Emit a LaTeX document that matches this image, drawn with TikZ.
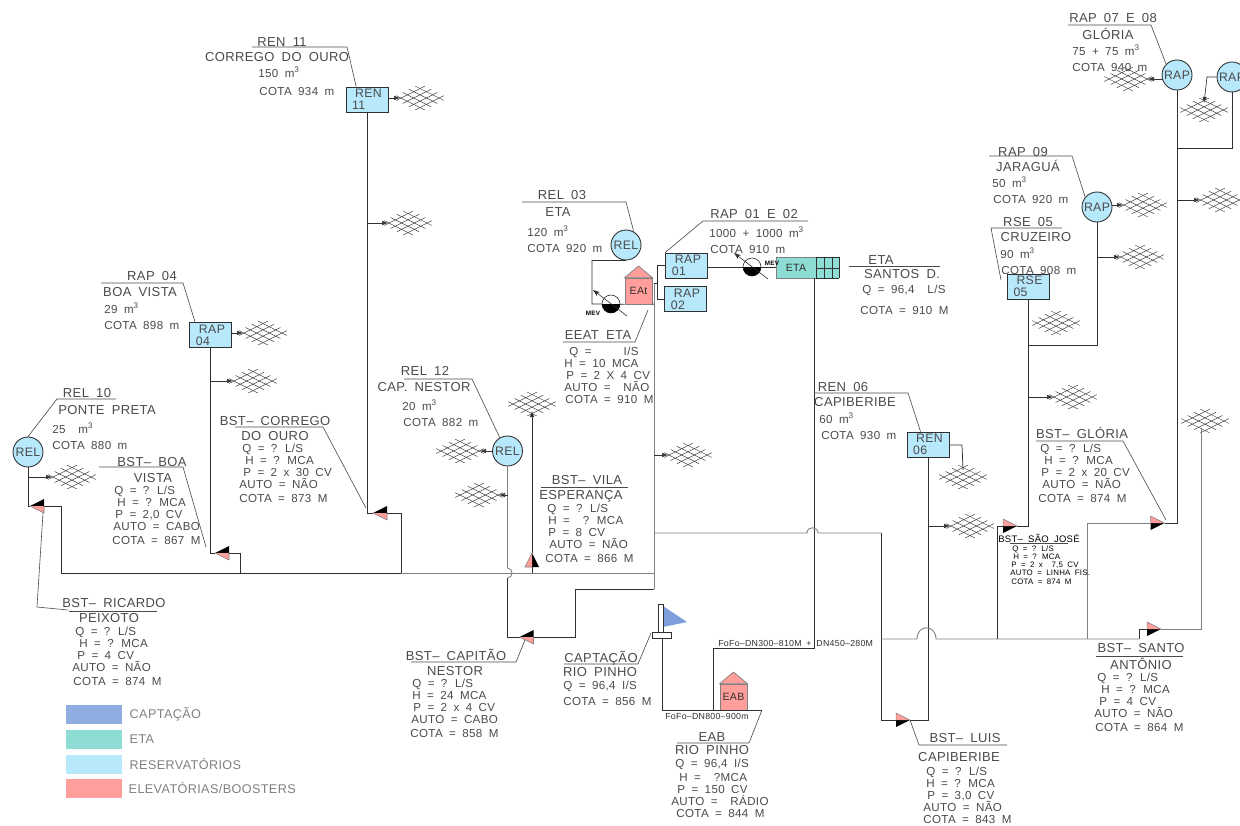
\documentclass[tikz,border=0pt]{standalone}
\usepackage{fontspec}
\usepackage{xcolor}
\usepackage{tikz}
\usetikzlibrary{arrows.meta,positioning}
\setmainfont[LetterSpace=3,WordSpace=1.8]{Liberation Sans}
\definecolor{tankblue}{HTML}{B8E8FC}
\definecolor{pumppink}{HTML}{FF9E9B}
\definecolor{etateal}{HTML}{8DDDD5}
\definecolor{flagblue}{HTML}{7C9EDC}
\definecolor{legblue}{HTML}{8FADE0}
\definecolor{inkgray}{HTML}{4A4A4A}
\definecolor{pipedark}{HTML}{303030}
\definecolor{pipegray}{HTML}{808080}
\newcommand\ind[1]{\hspace*{\dimexpr#1pt*569/1000\relax}}
\newcommand\cub{m\textsuperscript{3}}
\tikzset{
  rede/.pic={
    \foreach \i in {0,...,3} {
      \draw[net] ({-23.75+6.33*\i},{2.375+3.17*\i}) -- ({4.75+6.33*\i},{-11.875+3.17*\i});
      \draw[net] ({23.75-6.33*\i},{2.375+3.17*\i}) -- ({-4.75-6.33*\i},{-11.875+3.17*\i});
    }
    \coordinate (-w) at (-20,0);
    \coordinate (-e) at (20,0);
    \coordinate (-n) at (0,-7);
    \coordinate (-s) at (0,7);
  },
  booster/.pic={
    \fill[black] (-7,0) -- (7,-7) -- (7,0) -- cycle;
    \fill[pumppink] (-7,0) -- (7,0) -- (7,7) -- cycle;
    \draw[pipegray,line width=0.3pt] (-7,0) -- (7,7) -- (7,0);
    \coordinate (-a) at (-7,0);
    \coordinate (-b) at (7,0);
  },
  bomba/.pic={
    \draw[pipedark,fill=white,line width=0.35pt] (0,0) circle[radius=9];
    \begin{scope}
      \clip (-10,0) rectangle (10,10);
      \fill[black] (0,0) circle[radius=9];
    \end{scope}
    \draw[pipedark,line width=0.35pt,-{Stealth[length=1.4mm,width=1mm]}] (16,12) -- (-18,-14);
  }
}
\begin{document}
\begin{tikzpicture}[x=0.02cm,y=-0.02cm,text=inkgray,
   p/.style={pipedark,line width=0.42pt},
   pg/.style={pipegray,line width=0.5pt},
   ld/.style={inkgray,line width=0.35pt},
   a/.style={pipedark,line width=0.38pt,-{Latex[length=1.2mm,width=0.9mm]}},
   net/.style={pipedark,line width=0.25pt},
   tt/.style={inner sep=0pt,font=\fontsize{7.4}{8}\selectfont},
   d/.style={inner sep=0pt,anchor=north west,align=left,font=\fontsize{6.6}{6.83}\selectfont},
   ds/.style={inner sep=0pt,anchor=north west,align=left,text=black,font=\fontsize{4.5}{4.7}\selectfont},
   fo/.style={inner sep=0pt,text=pipedark,font=\fontsize{5}{5}\selectfont},
   mev/.style={inner sep=0pt,text=black,font=\fontsize{3.6}{4}\selectfont\bfseries},
   tq/.style={draw=pipedark,line width=0.5pt,fill=tankblue,inner sep=0pt,minimum width=8.4mm,minimum height=5mm,align=left,font=\fontsize{7}{6.8}\selectfont},
   tc/.style={circle,draw=pipedark,line width=0.5pt,fill=tankblue,inner sep=0pt,minimum size=6mm,font=\fontsize{7}{7}\selectfont},
   casa/.style={draw=pipegray,line width=0.4pt,fill=pumppink,inner sep=0pt,minimum width=5.4mm,minimum height=5.2mm,text=pipedark,font=\fontsize{6}{6}\selectfont},
   lg/.style={inner sep=0pt,minimum width=11.2mm,minimum height=3.8mm},
   lt/.style={inner sep=0pt,text=gray,font=\fontsize{7.2}{8}\selectfont}]
  \useasboundingbox (0,0) rectangle (1240,825);

  % reservoirs
  \node[tq] (ren11) at (367,99.5) {\ind{3}REN\\11};
  \node[tq] (rap04) at (210.5,335) {\ind{3}RAP\\04};
  \node[tq] (rap01) at (686.5,265.5) {\ind{3}RAP\\01};
  \node[tq] (rap02) at (685.5,299) {\ind{3}RAP\\02};
  \node[tq] (ren06) at (928,444.5) {\ind{3}REN\\06};
  \node[tq] (rse05) at (1028,286.5) {\ind{3}RSE\\05};
  \node[tc] (rel10) at (28,452) {REL};
  \node[tc] (rel12) at (507.5,451) {REL};
  \node[tc] (rel03) at (626,245) {REL};
  \node[tc] (rap09) at (1097,207) {RAP};
  \node[tc] (rap07) at (1177,75) {RAP};
  \node[tc] (rap08) at (1232,77) {RAP};

  % ETA and pump houses
  \node[draw=pipegray,line width=0.5pt,fill=etateal,inner sep=0pt,minimum width=8mm,minimum height=4.2mm,text=pipedark,font=\fontsize{6}{6}\selectfont] (eta) at (796,267.5) {ETA};
  \fill[etateal] (eta.north east) rectangle (839,278);
  \foreach \gx in {816,824,832,839} \draw[p,line width=0.35pt] (\gx,257) -- (\gx,278);
  \foreach \gy in {257,268,278} \draw[p,line width=0.35pt] (816,\gy) -- (839,\gy);
  \coordinate (etab) at (814,278);
  \node[casa] (eat) at (638.5,291) {EAt};
  \draw[pipegray,line width=0.4pt,fill=pumppink] (eat.north west) -- (638.5,266) -- (eat.north east) -- cycle;
  \node[casa] (eab) at (733.5,697) {EAB};
  \draw[pipegray,line width=0.4pt,fill=pumppink] (eab.north west) -- (733.5,672) -- (eab.north east) -- cycle;

  % intake
  \fill[flagblue] (663,606) -- (687,622) -- (663,627) -- cycle;
  \draw[p,fill=white] (658,604) rectangle (663,632);
  \draw[p,fill=white] (652,632) rectangle (671,638);
  \coordinate (capt) at (662,638);

  % boosters
  \pic (bstric) at (37,506) {booster};
  \pic (bstboa) at (222,553) {booster};
  \pic (bstcor) at (380,513) {booster};
  \pic[rotate=-90] (bstvil) at (532,560) {booster};
  \pic (bstcap) at (526.5,637) {booster};
  \pic[rotate=180] (bstlui) at (903,720) {booster};
  \pic[rotate=180] (bstsao) at (1010,526) {booster};
  \pic[rotate=180] (bstglo) at (1157.5,523) {booster};
  \pic[rotate=180] (bstsan) at (1154,629) {booster};

  % distribution nets
  \pic (mren11) at (420,98) {rede};
  \pic (mcor) at (408,223) {rede};
  \pic (mrap04) at (263,333) {rede};
  \pic (mboa) at (253,381) {rede};
  \pic (mrel10) at (72,477) {rede};
  \pic (mrel12) at (460,451) {rede};
  \pic (mcap) at (479,495) {rede};
  \pic (mvil) at (532,404) {rede};
  \pic (mcen) at (688,455) {rede};
  \pic (mren06) at (963,477) {rede};
  \pic (mlui) at (970,526) {rede};
  \pic (mrse) at (1056,323) {rede};
  \pic (msao) at (1073,397) {rede};
  \pic (mrap09) at (1143,205) {rede};
  \pic (mjar) at (1140,257) {rede};
  \pic (mrap07) at (1128,79) {rede};
  \pic (mrap08) at (1204,110) {rede};
  \pic (mglo) at (1220,200) {rede};
  \pic (msan) at (1205,421) {rede};

  % junctions
  \coordinate (mw) at (61,573);
  \coordinate (me) at (654,573);
  \coordinate (j240) at (240,573);
  \coordinate (j401) at (401,573);
  \coordinate (ja) at (507.5,568);
  \coordinate (jb) at (507.5,578);
  \coordinate (j575) at (575,589);
  \coordinate (j654b) at (654,589);
  \coordinate (j654t) at (654,283);
  \coordinate (j657) at (657,283);
  \coordinate (j592) at (592,304);
  \coordinate (j654e) at (654,304);
  \coordinate (j654c) at (654,533);
  \coordinate (j881) at (881,533);
  \coordinate (j881b) at (881,639);
  \coordinate (j997) at (997,639);
  \coordinate (j1087) at (1087,639);
  \coordinate (j1139) at (1139,639);
  \coordinate (j1201) at (1201,428);
  \coordinate (j345) at (1028,345);
  \coordinate (j148) at (1177,148);
  \coordinate (j713) at (713,648);
  \coordinate (j713b) at (713,710);
  \coordinate (j662) at (662,710);
  \coordinate (j762) at (762,710);
  \coordinate (j1207) at (1207,77);
  \coordinate (j962) at (962,445);

  % pipes
  \draw[p] (rel10) |- (bstric-a);
  \draw[p] (bstric-b) -| (mw);
  \draw[p] (mw) -- (j401);
  \draw[pg] (j401) -- (me);
  \draw[p] (rap04) |- (bstboa-a);
  \draw[p] (bstboa-b) -| (j240);
  \draw[p] (ren11) |- (bstcor-a);
  \draw[p] (bstcor-b) -| (j401);
  \draw[pg] (rel12) -- (ja) .. controls (513.5,568) and (513.5,578) .. (jb);
  \draw[p] (jb) |- (bstcap-a);
  \draw[p] (bstcap-b) -| (j575) -- (j654b);
  \draw[pg] (j654t) -- (j654b);
  \draw[p] (rel03.south) -| (j592) -- (eat.south west);
  \draw[p] (eat.south east) -- (j654e);
  \draw[p] (j654t) -- (j657);
  \draw[p] (rap01.west) -| (j657) |- (rap02.west);
  \draw[p] (rap01.east |- eta.west) -- (eta.west);
  \draw[p] (etab) -- (814,648) -- (j713) -- (j713b);
  \draw[p] (capt) -- (j662) -- (j762);
  \draw[pg] (j654c) -- (807,533) .. controls (807,526) and (818,526) .. (818,533) -- (j881);
  \draw[p] (j881) |- (bstlui-b);
  \draw[p] (bstlui-a) -| (ren06);
  \draw[pg] (j881b) -- (917,639) .. controls (917,624) and (936,624) .. (936,639) -- (j1139);
  \draw[p] (j1139) |- (bstsan-b);
  \draw[pg] (bstsan-a) -| (j1201);
  \draw[p] (j997) |- (bstsao-b);
  \draw[p] (bstsao-a) -| (rse05);
  \draw[pg] (j1087) |- (bstglo-b);
  \draw[p] (bstglo-a) -| (rap07);
  \draw[p] (rap09) |- (j345);
  \draw[p] (rap08) |- (j148);
  \draw[p] (bstvil-b) -- (532,573);

  % feeds to the nets
  \draw[a] (ren11.east |- mren11-w) -- (mren11-w);
  \draw[a] (ren11 |- mcor-w) -- (mcor-w);
  \draw[a] (rap04.east |- mrap04-w) -- (mrap04-w);
  \draw[a] (rap04 |- mboa-w) -- (mboa-w);
  \draw[a] (rel10 |- mrel10-w) -- (mrel10-w);
  \draw[a] (rel12.west) -- (mrel12-e);
  \draw[a] (jb |- mcap-e) -- (mcap-e);
  \draw[a] (bstvil-a) -- (mvil-s);
  \draw[a] (me |- mcen-w) -- (mcen-w);
  \draw[p] (ren06.east |- j962) -- (j962) -- (mren06-n);
  \draw[a] (ren06 |- mlui-w) -- (mlui-w);
  \draw[a] (j345 |- msao-w) -- (msao-w);
  \draw[a] (rap09.east |- mrap09-w) -- (mrap09-w);
  \draw[a] (rap09 |- mjar-w) -- (mjar-w);
  \draw[a] (rap07.west |- mrap07-e) -- (mrap07-e);
  \draw[a] (rap08.west) -- (j1207) -- (mrap08-n);
  \draw[a] (j148 |- mglo-w) -- (mglo-w);

  % pumps
  \pic at (611,304) {bomba};
  \pic at (752,267) {bomba};
  \node[mev] (mev1) at (593,313) {MEV};
  \node[mev] (mev2) at (772,263) {MEV};

  % leaders
  \draw[ld] (252,47) -- (347,47) -- (ren11.130);
  \draw[ld] (101,283) -- (183,283) -- (rap04.140);
  \draw[ld] (116,399) -- (57,399) -- (rel10.north);
  \draw[ld] (99,467) -- (183,467) -- (206,547);
  \draw[ld] (235,427) -- (323,427) -- (366,508);
  \draw[ld] (43,513) -- (37,607) -- (68,610);
  \draw[ld] (69,611) -- (157,611);
  \draw[ld] (404,379) -- (472,379) -- (rel12.120);
  \draw[ld] (541,487) -- (628,487);
  \draw[ld] (525,640) -- (516,662) -- (411,662);
  \draw[ld] (651,633) -- (638,664) -- (564,664);
  \draw[ld] (j762) -- (749,743) -- (677,743);
  \draw[ld] (522,202) -- (626,202) -- (rel03.60);
  \draw[ld] (808,221) -- (703,221) -- (rap01.north west);
  \draw[ld] (563,342) -- (635,342) -- (648,310);
  \draw[ld] (849,266) -- (940,266);
  \draw[ld] (814,393) -- (908,393) -- (ren06.120);
  \draw[ld] (1062,228) -- (991,228) -- (1001,280);
  \draw[ld] (989,156) -- (1072,156) -- (rap09.140);
  \draw[ld] (1068,25) -- (1151,25) -- (rap07.135);
  \draw[ld] (1036,441) -- (1123,441) -- (1166,520);
  \draw[ld] (1010,543) -- (1068,543);
  \draw[ld] (1096,656) -- (1183,656);
  \draw[ld] (bstlui-a) -- (919,745) -- (1007,745);

  % texts, left side
  \node[tt] (t11) at (282,42) {REN 11};
  \node[tt] (s11) at (277,57) {CORREGO DO OURO};
  \node[d] (d11) at (258,66) {150 \cub\\[3.5pt]\ind{1}COTA 934 m};
  \node[tt] (t04) at (152,276) {RAP 04};
  \node[tt] (s04) at (140,292) {BOA VISTA};
  \node[d] (d04) at (104,302) {29 \cub\\[2.5pt]COTA 898 m};
  \node[tt] (t10) at (87,393) {REL 10};
  \node[tt] (s10) at (107,410) {PONTE PRETA};
  \node[d] (d10) at (52,422) {25 \ \cub\\[2.5pt]COTA 880 m};
  \node[tt] (tb) at (152,462) {BST-- BOA};
  \node[tt] (sb) at (153,478) {VISTA};
  \node[d] (db) at (112,486) {\ind{2}Q = ? L/S\\\ind{5}H = ? MCA\\\ind{3}P = 2,0 CV\\\ind{1}AUTO = CABO\\[1.1pt]COTA = 867 M};
  \node[tt] (tc) at (275,421) {BST-- CORREGO};
  \node[tt] (sc) at (275,436) {DO OURO};
  \node[d] (dc) at (239,444) {\ind{3}Q = ? L/S\\\ind{6}H = ? MCA\\\ind{4}P = 2 x 30 CV\\AUTO = NÃO\\[1.1pt]COTA = 873 M};
  \node[tt] (tr) at (114,603) {BST-- RICARDO};
  \node[tt] (sr) at (109,618) {PEIXOTO};
  \node[d] (dr) at (72,627) {\ind{3}Q = ? L/S\\\ind{7}H = ? MCA\\\ind{5}P = 4 CV\\AUTO = NÃO\\[1.1pt]\ind{1}COTA = 874 M};
  \node[tt] (t12) at (425,371) {REL 12};
  \node[tt] (s12) at (424,387) {CAP. NESTOR};
  \node[d] (d12) at (402,399) {20 \cub\\[2.5pt]\ind{1}COTA 882 m};

  % texts, centre
  \node[tt] (tv) at (587,480) {BST-- VILA};
  \node[tt] (sv) at (581,496) {ESPERANÇA};
  \node[d] (dv) at (545,504) {\ind{2}Q = ? L/S\\\ind{3}H = \ ? MCA\\\ind{3}P = 8 CV\\\ind{4}AUTO = NÃO\\[1.1pt]COTA = 866 M};
  \node[tt] (t03) at (562,195) {REL 03};
  \node[tt] (s03) at (558,212) {ETA};
  \node[d] (d03) at (527,225) {120 \cub\\[2.5pt]COTA 920 m};
  \node[tt] (t01) at (754,214) {RAP 01 E 02};
  \node[d] (d01) at (709,226) {1000 + 1000 \cub\\[2.5pt]\ind{1}COTA 910 m};
  \node[tt] (te) at (598,335) {EEAT ETA};
  \node[d] (de) at (564,347) {\ind{5}Q = \ \ \ \ I/S\\H = 10 MCA\\\ind{2}P = 2 X 4 CV\\AUTO = \ NÃO\\\ind{1}COTA = 910 M};
  \node[tt] (tet) at (881,260) {ETA};
  \node[tt] (set) at (902,274) {SANTOS D.};
  \node[d] (det) at (860,285) {\ind{2}Q = 96,4 \ L/S\\[5pt]COTA = 910 M};
  \node[tt] (t06) at (843,387) {REN 06};
  \node[tt] (s06) at (855,402) {CAPIBERIBE};
  \node[d] (d06) at (819,412) {60 \cub\\[2.5pt]\ind{2}COTA 930 m};
  \node[tt] (tcp) at (456,655) {BST-- CAPITÃO};
  \node[tt] (scp) at (455,671) {NESTOR};
  \node[d] (dcp) at (410,679) {\ind{2}Q = ? L/S\\\ind{2}H = 24 MCA\\\ind{3}P = 2 x 4 CV\\\ind{1}AUTO = CABO\\[1.1pt]COTA = 858 M};
  \node[tt] (tca) at (601,658) {CAPTAÇÃO};
  \node[tt] (sca) at (600,672) {RIO PINHO};
  \node[d] (dca) at (563,681) {Q = 96,4 I/S\\[2pt]COTA = 856 M};
  \node[tt] (tab) at (712,737) {EAB};
  \node[tt] (sab) at (712,750) {RIO PINHO};
  \node[d] (dab) at (671,759) {\ind{4}Q = 96,4 I/S\\[1pt]\ind{8}H = \ ?MCA\\\ind{6}P = 150 CV\\AUTO = \ RÁDIO\\\ind{5}COTA = 844 M};
  \node[fo] (fo1) at (707,716) {FoFo--DN800--900m};
  \node[fo,anchor=west] (fo2) at (718,643) {FoFo--DN300--810M + DN450--280M};

  % texts, right side
  \node[tt] (t78) at (1113,18) {RAP 07 E 08};
  \node[tt] (s78) at (1108,34) {GLÓRIA};
  \node[d] (d78) at (1072,44) {75 + 75 \cub\\[2.5pt]COTA 940 m};
  \node[tt] (t09) at (1023,152) {RAP 09};
  \node[tt] (s09) at (1028,166) {JARAGUÁ};
  \node[d] (d09) at (992,176) {50 \cub\\[2.5pt]\ind{1}COTA 920 m};
  \node[tt] (t05) at (1028,222) {RSE 05};
  \node[tt] (s05) at (1036,237) {CRUZEIRO};
  \node[d] (d05) at (1000,247) {90 \cub\\[2.5pt]\ind{1}COTA 908 m};
  \node[tt] (tg) at (1082,433) {BST-- GLÓRIA};
  \node[d] (dg) at (1038,444) {\ind{2}Q = ? L/S\\\ind{6}H = ? MCA\\\ind{3}P = 2 x 20 CV\\\ind{4}AUTO = NÃO\\[1.1pt]COTA = 874 M};
  \node[inner sep=0pt,text=black,font=\fontsize{5.4}{6}\selectfont] (ts) at (1039,538) {BST-- SÃO JOSÉ};
  \node[ds] (ds) at (1010,545) {\ind{2}Q = ? L/S\\\ind{3}H = ? MCA\\\ind{1}P = 2 x \ 7,5 CV\\AUTO = LINHA FIS.\\\ind{1}COTA = 874 M};
  \node[tt] (tst) at (1141,648) {BST-- SANTO};
  \node[tt] (sst) at (1141,664) {ANTÔNIO};
  \node[d] (dst) at (1094,673) {\ind{3}Q = ? L/S\\\ind{7}H = ? MCA\\\ind{5}P = 4 CV\\AUTO = NÃO\\[1.1pt]\ind{1}COTA = 864 M};
  \node[tt] (tl) at (965,738) {BST-- LUIS};
  \node[tt] (sl) at (959,757) {CAPIBERIBE};
  \node[d] (dl) at (923,767) {\ind{3}Q = ? L/S\\\ind{3}H = ? MCA\\\ind{4}P = 3,0 CV\\AUTO = NÃO\\COTA = 843 M};

  % legend
  \node[lg,fill=legblue] (lcap) at (94,714.5) {};
  \node[lg,fill=etateal] (leta) at (94,739.5) {};
  \node[lg,fill=tankblue] (lres) at (94,764.5) {};
  \node[lg,fill=pumppink] (lele) at (94,788.5) {};
  \node[lt,right=1.4mm of lcap] (tcap) {CAPTAÇÃO};
  \node[lt,right=1.4mm of leta] (teta) {ETA};
  \node[lt,right=1.4mm of lres] (tres) {RESERVATÓRIOS};
  \node[lt,right=1.2mm of lele] (tele) {ELEVATÓRIAS/BOOSTERS};
\end{tikzpicture}
\end{document}
